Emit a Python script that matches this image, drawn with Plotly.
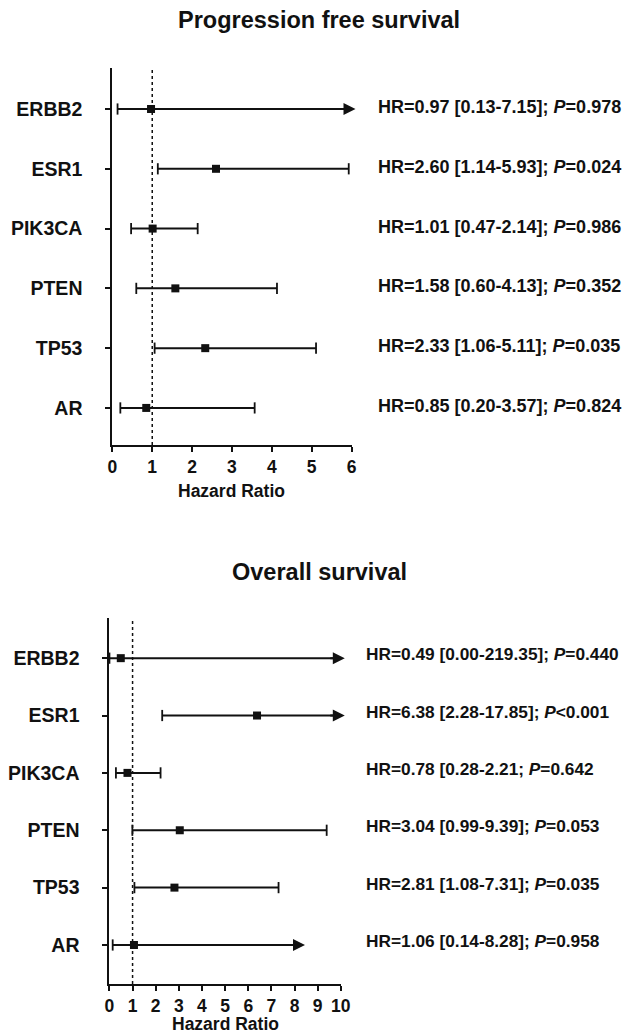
import plotly.graph_objects as go

# ---------------- data ----------------
genes = ["ERBB2", "ESR1", "PIK3CA", "PTEN", "TP53", "AR"]

pfs_hr = [0.97, 2.60, 1.01, 1.58, 2.33, 0.85]
pfs_lo = [0.13, 1.14, 0.47, 0.60, 1.06, 0.20]
pfs_hi = [7.15, 5.93, 2.14, 4.13, 5.11, 3.57]
pfs_arrow = [True, False, False, False, False, False]
pfs_text = [
    "HR=0.97 [0.13-7.15]; <i>P</i>=0.978",
    "HR=2.60 [1.14-5.93]; <i>P</i>=0.024",
    "HR=1.01 [0.47-2.14]; <i>P</i>=0.986",
    "HR=1.58 [0.60-4.13]; <i>P</i>=0.352",
    "HR=2.33 [1.06-5.11]; <i>P</i>=0.035",
    "HR=0.85 [0.20-3.57]; <i>P</i>=0.824",
]

os_hr = [0.49, 6.38, 0.78, 3.04, 2.81, 1.06]
os_lo = [0.00, 2.28, 0.28, 0.99, 1.08, 0.14]
os_hi = [219.35, 17.85, 2.21, 9.39, 7.31, 8.28]
os_arrow = [True, True, False, False, False, True]
os_text = [
    "HR=0.49 [0.00-219.35]; <i>P</i>=0.440",
    "HR=6.38 [2.28-17.85]; <i>P</i>&lt;0.001",
    "HR=0.78 [0.28-2.21; <i>P</i>=0.642",
    "HR=3.04 [0.99-9.39]; <i>P</i>=0.053",
    "HR=2.81 [1.08-7.31]; <i>P</i>=0.035",
    "HR=1.06 [0.14-8.28]; <i>P</i>=0.958",
]

pfs_xticks = [0, 1, 2, 3, 4, 5, 6]
os_xticks = [0, 1, 2, 3, 4, 5, 6, 7, 8, 9, 10]

titles = ["Progression free survival", "Overall survival"]
x_title = "Hazard Ratio"

# ---------------- figure ----------------
W, H = 628, 1035
FONT = "Liberation Sans, Arial, Helvetica, sans-serif"
INK = "#111111"

fig = go.Figure()

panels = [
    dict(hr=pfs_hr, lo=pfs_lo, hi=pfs_hi, arrow=pfs_arrow, text=pfs_text,
         xticks=pfs_xticks, xa="x", ya="y", txt_x=380, txt_size=18, yshift=2),
    dict(hr=os_hr, lo=os_lo, hi=os_hi, arrow=os_arrow, text=os_text,
         xticks=os_xticks, xa="x2", ya="y2", txt_x=368, txt_size=17.3, yshift=4),
]

annotations = []
shapes = []

for p in panels:
    xmax = max(p["xticks"])
    rows = list(range(len(genes)))
    # CI lines
    lx, ly = [], []
    for i in rows:
        end = min(p["hi"][i], xmax)
        lx += [p["lo"][i], end, None]
        ly += [i, i, None]
    fig.add_trace(go.Scatter(x=lx, y=ly, mode="lines", xaxis=p["xa"], yaxis=p["ya"],
                             line=dict(color=INK, width=2), showlegend=False,
                             hoverinfo="skip"))
    # caps
    cx, cy = [], []
    for i in rows:
        cx.append(p["lo"][i]); cy.append(i)
        if not p["arrow"][i]:
            cx.append(p["hi"][i]); cy.append(i)
    fig.add_trace(go.Scatter(x=cx, y=cy, mode="markers", xaxis=p["xa"], yaxis=p["ya"],
                             marker=dict(symbol="line-ns", size=8,
                                         line=dict(color=INK, width=1.8)),
                             cliponaxis=False, showlegend=False, hoverinfo="skip"))
    # HR squares
    fig.add_trace(go.Scatter(x=p["hr"], y=rows, mode="markers", xaxis=p["xa"], yaxis=p["ya"],
                             marker=dict(symbol="square", size=8, color=INK),
                             cliponaxis=False, showlegend=False))
    # arrows for truncated CIs
    for i in rows:
        if p["arrow"][i]:
            end = min(p["hi"][i], xmax)
            annotations.append(dict(x=end, y=i, xref=p["xa"], yref=p["ya"],
                                    ax=-16, ay=0, axref="pixel", ayref="pixel",
                                    showarrow=True, arrowhead=2, arrowsize=1.2,
                                    arrowwidth=2, arrowcolor=INK, text="", xshift=4))
    # right-side text
    for i in rows:
        annotations.append(dict(x=p["txt_x"] / W, y=i, xref="paper", yref=p["ya"],
                                text=p["text"][i], showarrow=False, xanchor="left",
                                yanchor="middle", yshift=p["yshift"],
                                font=dict(family=FONT, size=p["txt_size"], color=INK,
                                          weight="bold")))
    # reference line at HR = 1
    shapes.append(dict(type="line", x0=1, x1=1, y0=0, y1=1, xref=p["xa"],
                       yref=p["ya"] + " domain",
                       line=dict(color=INK, width=1.5, dash="dot")))

# titles
annotations.append(dict(x=322 / W, y=1 - 20 / H, xref="paper", yref="paper",
                        text=titles[0], showarrow=False, xanchor="center", yanchor="middle",
                        font=dict(family=FONT, size=23.5, color=INK, weight="bold")))
annotations.append(dict(x=322 / W, y=1 - 572 / H, xref="paper", yref="paper",
                        text=titles[1], showarrow=False, xanchor="center", yanchor="middle",
                        font=dict(family=FONT, size=23.5, color=INK, weight="bold")))
# axis titles
annotations.append(dict(x=232.5 / W, y=1 - 491 / H, xref="paper", yref="paper",
                        text=x_title, showarrow=False, xanchor="center", yanchor="middle",
                        font=dict(family=FONT, size=17.5, color=INK, weight="bold")))
annotations.append(dict(x=225.5 / W, y=1 - 1024 / H, xref="paper", yref="paper",
                        text=x_title, showarrow=False, xanchor="center", yanchor="middle",
                        font=dict(family=FONT, size=17.5, color=INK, weight="bold")))

common_x = dict(showgrid=False, zeroline=False, showline=True, linecolor=INK, linewidth=2,
                ticks="outside", ticklen=5, tickwidth=2, tickcolor=INK,
                tickfont=dict(family=FONT, size=17.5, color=INK, weight="bold"),
                fixedrange=True)
common_y = dict(showgrid=False, zeroline=False, showline=True, linecolor=INK, linewidth=2,
                ticks="outside", ticklen=5, tickwidth=2, tickcolor=INK,
                tickvals=list(range(len(genes))), ticktext=genes,
                tickfont=dict(family=FONT, size=19.5, color=INK, weight="bold"),
                ticklabelstandoff=19, fixedrange=True)

fig.update_layout(
    width=W, height=H,
    margin=dict(l=0, r=0, t=0, b=0),
    paper_bgcolor="white", plot_bgcolor="white",
    showlegend=False,
    xaxis=dict(common_x, domain=[110 / W, 355 / W], range=[0, 6], anchor="y",
               tickvals=pfs_xticks),
    yaxis=dict(common_y, domain=[1 - 445 / H, 1 - 68 / H], range=[5.62, -0.686], anchor="x"),
    xaxis2=dict(common_x, domain=[107 / W, 344 / W], range=[0, 10], anchor="y2",
                tickvals=os_xticks),
    yaxis2=dict(common_y, domain=[1 - 984 / H, 1 - 618 / H], range=[5.68, -0.70], anchor="x2"),
    annotations=annotations,
    shapes=shapes,
)

fig.write_html("out.html",
               config={"displayModeBar": False},
               post_script="document.body.style.margin='0';document.body.style.padding='0';")
